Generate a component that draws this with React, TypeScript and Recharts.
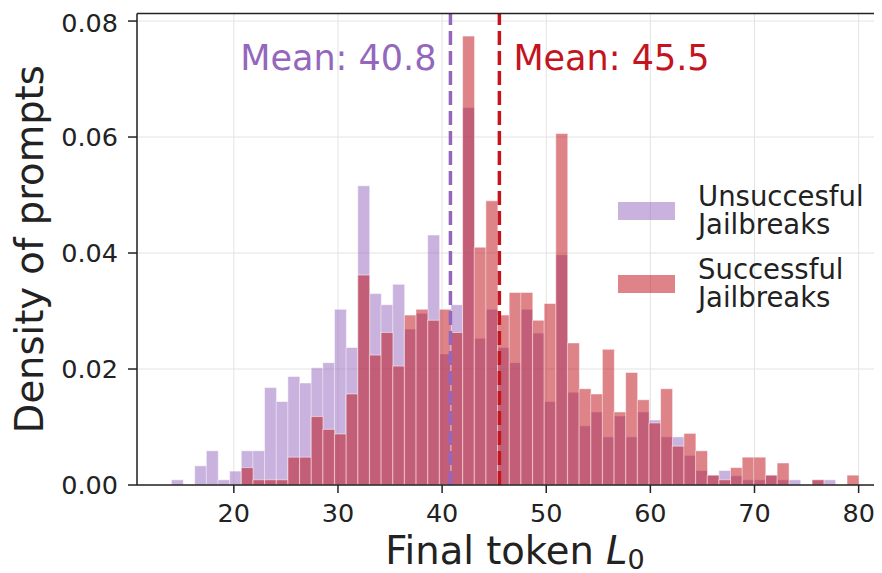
import { BarChart, Bar, XAxis, YAxis, CartesianGrid, ReferenceLine, Legend } from 'recharts';

// histogram bins: 59 equal bins between 14 and 80
const BIN_MIN = 14;
const BIN_MAX = 80;

const unsuccessful = [
  0.0009, 0, 0.0033, 0.0059, 0.0009, 0.0024, 0.0059, 0.0059, 0.0168, 0.0144,
  0.0187, 0.0176, 0.0202, 0.0211, 0.0303, 0.0237, 0.0516, 0.033, 0.0311, 0.0346,
  0.0269, 0.0296, 0.0431, 0.0226, 0.0311, 0.0651, 0.0253, 0.0303, 0.0237, 0.0211,
  0.0303, 0.0262, 0.0144, 0.0397, 0.016, 0.0102, 0.0126, 0.0083, 0.0119, 0.0083,
  0.0126, 0.0112, 0.0083, 0.0083, 0.0051, 0.0025, 0.0017, 0.0025, 0.0016, 0.0009,
  0.0009, 0.0017, 0.0009, 0.0009, 0, 0.0009, 0.0009, 0, 0,
];

const successful = [
  0, 0, 0, 0, 0, 0, 0.003, 0.0009, 0.0009, 0.0009,
  0.0048, 0.0048, 0.0118, 0.0096, 0.0088, 0.0157, 0.0362, 0.0224, 0.0263, 0.0205,
  0.0293, 0.0303, 0.0284, 0.0303, 0.0263, 0.0774, 0.041, 0.049, 0.0293, 0.0332,
  0.0332, 0.0284, 0.0313, 0.0606, 0.0245, 0.0166, 0.0157, 0.0234, 0.0126, 0.0194,
  0.0147, 0.0107, 0.0166, 0.0067, 0.0089, 0.0059, 0.0017, 0.0009, 0.003, 0.0048,
  0.0048, 0.0017, 0.0038, 0, 0, 0.0009, 0, 0, 0.0017,
];

const MEAN_UNSUCCESSFUL = 40.8;
const MEAN_SUCCESSFUL = 45.5;

const xTicks = [20, 30, 40, 50, 60, 70, 80];
const yTicks = [0, 0.02, 0.04, 0.06, 0.08];

const X_DOMAIN: [number, number] = [10.7, 83.3];
const Y_MAX = 0.0813;

const PURPLE = '#9467bd';
const RED_BAR = 'rgb(190,10,20)';
const RED_LINE = '#c4141e';
const FONT = 'DejaVu Sans';
const INK = '#222';

// layout
const CHART_W = 890;
const CHART_H = 565;
const MARGIN = { top: 5.5, right: 5, bottom: 48, left: 0 };
const Y_AXIS_W = 129;
const PLOT_W = CHART_W - MARGIN.right - MARGIN.left - Y_AXIS_W;
const PX_PER_UNIT = PLOT_W / (X_DOMAIN[1] - X_DOMAIN[0]);
const PAD = {
  left: (BIN_MIN - X_DOMAIN[0]) * PX_PER_UNIT,
  right: (X_DOMAIN[1] - BIN_MAX) * PX_PER_UNIT,
};

const binWidth = (BIN_MAX - BIN_MIN) / unsuccessful.length;
const rows = unsuccessful.map((u, i) => ({
  bin: i,
  center: BIN_MIN + (i + 0.5) * binWidth,
  unsucc: u > 0 ? u : null,
  succ: successful[i] > 0 ? successful[i] : null,
}));

const legendItems = [
  { lines: ['Unsuccesful', 'Jailbreaks'], color: PURPLE },
  { lines: ['Successful', 'Jailbreaks'], color: RED_BAR },
];

function renderLegend() {
  return (
    <div style={{ fontFamily: FONT, fontSize: 27.5, color: INK }}>
      {legendItems.map((item) => (
        <div key={item.lines[0]} style={{ display: 'flex', alignItems: 'center', height: 55.6, marginBottom: 17.7 }}>
          <div style={{ width: 57, height: 18, background: item.color, opacity: 0.5 }} />
          <div style={{ marginLeft: 23, lineHeight: '27.8px', textAlign: 'left' }}>
            {item.lines.map((l) => (
              <div key={l}>{l}</div>
            ))}
          </div>
        </div>
      ))}
    </div>
  );
}

function meanLabel(text: string, color: string, side: 'left' | 'right') {
  return (props: any) => {
    const vb = props.viewBox;
    return (
      <text
        x={side === 'left' ? vb.x - 14 : vb.x + 14}
        y={vb.y + 56.5}
        textAnchor={side === 'left' ? 'end' : 'start'}
        fill={color}
        fontSize={35}
        fontFamily={FONT}
      >
        {text}
      </text>
    );
  };
}

export default function App() {
  return (
    <div style={{ width: 874, height: CHART_H, overflow: 'hidden', fontFamily: FONT }}>
      <BarChart width={CHART_W} height={CHART_H} data={rows} margin={MARGIN} barCategoryGap={0} barGap={0}>
        <CartesianGrid xAxisId="num" stroke="#e3e3e3" strokeWidth={1} />
        <XAxis xAxisId="a" dataKey="bin" type="category" hide height={0} padding={PAD} />
        <XAxis xAxisId="b" dataKey="bin" type="category" hide height={0} padding={PAD} />
        <XAxis
          xAxisId="num"
          dataKey="center"
          type="number"
          domain={X_DOMAIN}
          allowDataOverflow
          ticks={xTicks}
          height={40}
          tickSize={8}
          tickMargin={10.5}
          axisLine={{ stroke: INK, strokeWidth: 1.5 }}
          tickLine={{ stroke: INK, strokeWidth: 1.5 }}
          tick={{ fontSize: 25.5, fontFamily: FONT, fill: INK }}
          label={(props: any) => {
            const vb = props.viewBox;
            return (
              <text x={vb.x + vb.width / 2} y={vb.y + 79} textAnchor="middle" fontSize={38.5} fontFamily={FONT} fill={INK}>
                <tspan>Final token </tspan>
                <tspan fontStyle="italic">L</tspan>
                <tspan fontSize={27} dy={5}>0</tspan>
              </text>
            );
          }}
        />
        <YAxis
          type="number"
          domain={[0, Y_MAX]}
          allowDataOverflow
          ticks={yTicks}
          width={Y_AXIS_W}
          tickSize={9}
          tickMargin={10}
          tickFormatter={(v: number) => v.toFixed(2)}
          axisLine={{ stroke: INK, strokeWidth: 1.5 }}
          tickLine={{ stroke: INK, strokeWidth: 1.5 }}
          tick={{ fontSize: 25.5, fontFamily: FONT, fill: INK }}
          label={(props: any) => {
            const vb = props.viewBox;
            const cx = 35;
            const cy = vb.y + vb.height / 2;
            return (
              <text x={cx} y={cy} transform={`rotate(-90, ${cx}, ${cy})`} textAnchor="middle" fontSize={38.5} fontFamily={FONT} fill={INK}>
                Density of prompts
              </text>
            );
          }}
        />
        <Bar
          xAxisId="a"
          dataKey="unsucc"
          fill={PURPLE}
          fillOpacity={0.5}
          stroke="#fff"
          strokeOpacity={0.5}
          strokeWidth={1}
          isAnimationActive={false}
        />
        <Bar
          xAxisId="b"
          dataKey="succ"
          fill={RED_BAR}
          fillOpacity={0.5}
          stroke="#fff"
          strokeOpacity={0.5}
          strokeWidth={1}
          isAnimationActive={false}
        />
        <ReferenceLine
          xAxisId="num"
          x={MEAN_UNSUCCESSFUL}
          stroke={PURPLE}
          strokeWidth={3.5}
          strokeDasharray="14 6"
          label={meanLabel(`Mean: ${MEAN_UNSUCCESSFUL.toFixed(1)}`, PURPLE, 'left')}
        />
        <ReferenceLine
          xAxisId="num"
          x={MEAN_SUCCESSFUL}
          stroke={RED_LINE}
          strokeWidth={3.5}
          strokeDasharray="14 6"
          label={meanLabel(`Mean: ${MEAN_SUCCESSFUL.toFixed(1)}`, RED_LINE, 'right')}
        />
        <ReferenceLine xAxisId="num" y={Y_MAX} stroke={INK} strokeWidth={1.5} />
        <Legend
          layout="vertical"
          align="center"
          verticalAlign="middle"
          content={renderLegend}
          wrapperStyle={{ left: 610, top: 175, width: 264 }}
        />
      </BarChart>
    </div>
  );
}
